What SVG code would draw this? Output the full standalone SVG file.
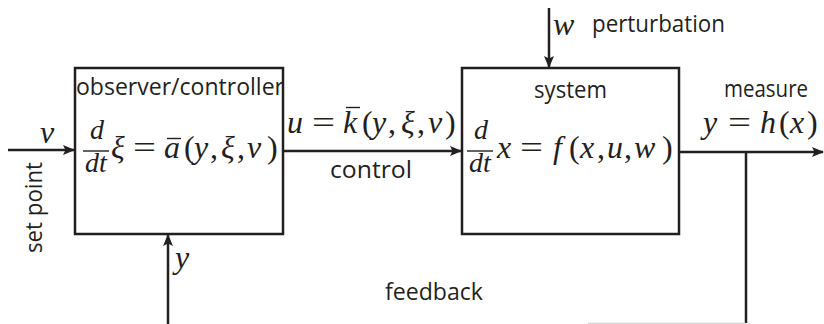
<svg xmlns="http://www.w3.org/2000/svg" width="824" height="324" viewBox="0 0 824 324">
  <style>
    .box { fill: none; stroke: #231f20; stroke-width: 2.5; }
    .wire { fill: none; stroke: #231f20; stroke-width: 2.5; }
    .faint { fill: none; stroke: #d4d4d4; stroke-width: 1.2; }
    .lbl { font-family: "Open Sans", "Noto Sans", "Liberation Sans", sans-serif; font-size: 24px; font-weight: 500; fill: #231f20; }
    .m { font-family: "Liberation Serif", "DejaVu Serif", serif; font-size: 32px; fill: #231f20; }
    .i { font-style: italic; }
    .fr { font-family: "Liberation Serif", "DejaVu Serif", serif; font-size: 28px; font-style: italic; fill: #231f20; text-anchor: middle; }
    .bar { stroke: #231f20; stroke-width: 1.4; }
  </style>
  <defs>
    <marker id="arrow" viewBox="0 0 12 10" refX="11" refY="5" markerWidth="12" markerHeight="10" markerUnits="userSpaceOnUse" orient="auto">
      <path d="M0,0 L12,5 L0,10 L2.5,5 Z" fill="#231f20"/>
    </marker>
  </defs>

  <!-- connectors -->
  <g id="connectors">
    <line class="wire" x1="8" y1="150" x2="74" y2="150" marker-end="url(#arrow)"/>
    <line class="wire" x1="283" y1="151" x2="461" y2="151" marker-end="url(#arrow)"/>
    <line class="wire" x1="549" y1="8" x2="549" y2="67" marker-end="url(#arrow)"/>
    <line class="wire" x1="679" y1="152" x2="823" y2="152" marker-end="url(#arrow)"/>
    <line class="wire" x1="746" y1="152" x2="746" y2="323"/>
    <line class="faint" x1="588" y1="323.4" x2="746" y2="323.4"/>
    <line class="wire" x1="168" y1="324" x2="168" y2="235" marker-end="url(#arrow)"/>
  </g>

  <!-- set point input -->
  <g id="setpoint">
    <text class="m i" x="40" y="143">v</text>
    <text class="lbl" transform="translate(42,207.5) rotate(-90)" text-anchor="middle" textLength="91" lengthAdjust="spacingAndGlyphs">set point</text>
  </g>

  <!-- observer / controller block -->
  <g id="observer">
    <rect class="box" x="75" y="68" width="208" height="166"/>
    <text class="lbl" x="76" y="95" textLength="208" lengthAdjust="spacingAndGlyphs">observer/controller</text>
    <text class="fr" x="97" y="139">d</text>
    <line class="bar" x1="83" y1="151" x2="109" y2="151"/>
    <text class="fr" x="96" y="172">dt</text>
    <text class="m" y="158"><tspan class="i" x="111">ξ</tspan><tspan x="133" textLength="23" lengthAdjust="spacingAndGlyphs">=</tspan><tspan class="i" x="164">a</tspan><tspan x="184">(</tspan><tspan class="i" x="194">y</tspan><tspan x="210">,</tspan><tspan class="i" x="221">ξ</tspan><tspan x="237">,</tspan><tspan class="i" x="247">v</tspan><tspan x="267">)</tspan></text>
    <line class="bar" x1="167" y1="138.5" x2="181" y2="138.5"/>
  </g>

  <!-- control signal -->
  <g id="control">
    <text class="m" y="133"><tspan class="i" x="287">u</tspan><tspan x="312" textLength="23" lengthAdjust="spacingAndGlyphs">=</tspan><tspan class="i" x="343">k</tspan><tspan x="362">(</tspan><tspan class="i" x="372">y</tspan><tspan x="388">,</tspan><tspan class="i" x="401">ξ</tspan><tspan x="417">,</tspan><tspan class="i" x="428">v</tspan><tspan x="445">)</tspan></text>
    <line class="bar" x1="346" y1="107.5" x2="360" y2="107.5"/>
    <text class="lbl" x="330" y="178" textLength="82" lengthAdjust="spacingAndGlyphs">control</text>
  </g>

  <!-- perturbation input -->
  <g id="perturbation">
    <text class="m i" x="553" y="35">w</text>
    <text class="lbl" x="592" y="32" textLength="133" lengthAdjust="spacingAndGlyphs">perturbation</text>
  </g>

  <!-- system block -->
  <g id="system">
    <rect class="box" x="462" y="68" width="217" height="166"/>
    <text class="lbl" x="534" y="98" textLength="73" lengthAdjust="spacingAndGlyphs">system</text>
    <text class="fr" x="481" y="139">d</text>
    <line class="bar" x1="467" y1="151" x2="493" y2="151"/>
    <text class="fr" x="480" y="172">dt</text>
    <text class="m" y="158"><tspan class="i" x="497">x</tspan><tspan x="520" textLength="23" lengthAdjust="spacingAndGlyphs">=</tspan><tspan class="i" x="553">f</tspan><tspan x="569">(</tspan><tspan class="i" x="580">x</tspan><tspan x="597">,</tspan><tspan class="i" x="607">u</tspan><tspan x="624">,</tspan><tspan class="i" x="634">w</tspan><tspan x="662">)</tspan></text>
  </g>

  <!-- measurement output -->
  <g id="measure">
    <text class="lbl" x="724" y="97" textLength="84" lengthAdjust="spacingAndGlyphs">measure</text>
    <text class="m" y="133"><tspan class="i" x="703">y</tspan><tspan x="728" textLength="23" lengthAdjust="spacingAndGlyphs">=</tspan><tspan class="i" x="760">h</tspan><tspan x="779">(</tspan><tspan class="i" x="790">x</tspan><tspan x="807">)</tspan></text>
  </g>

  <!-- feedback path labels -->
  <g id="feedback">
    <text class="m i" x="175" y="268">y</text>
    <text class="lbl" x="385" y="300" textLength="98" lengthAdjust="spacingAndGlyphs">feedback</text>
  </g>
</svg>
